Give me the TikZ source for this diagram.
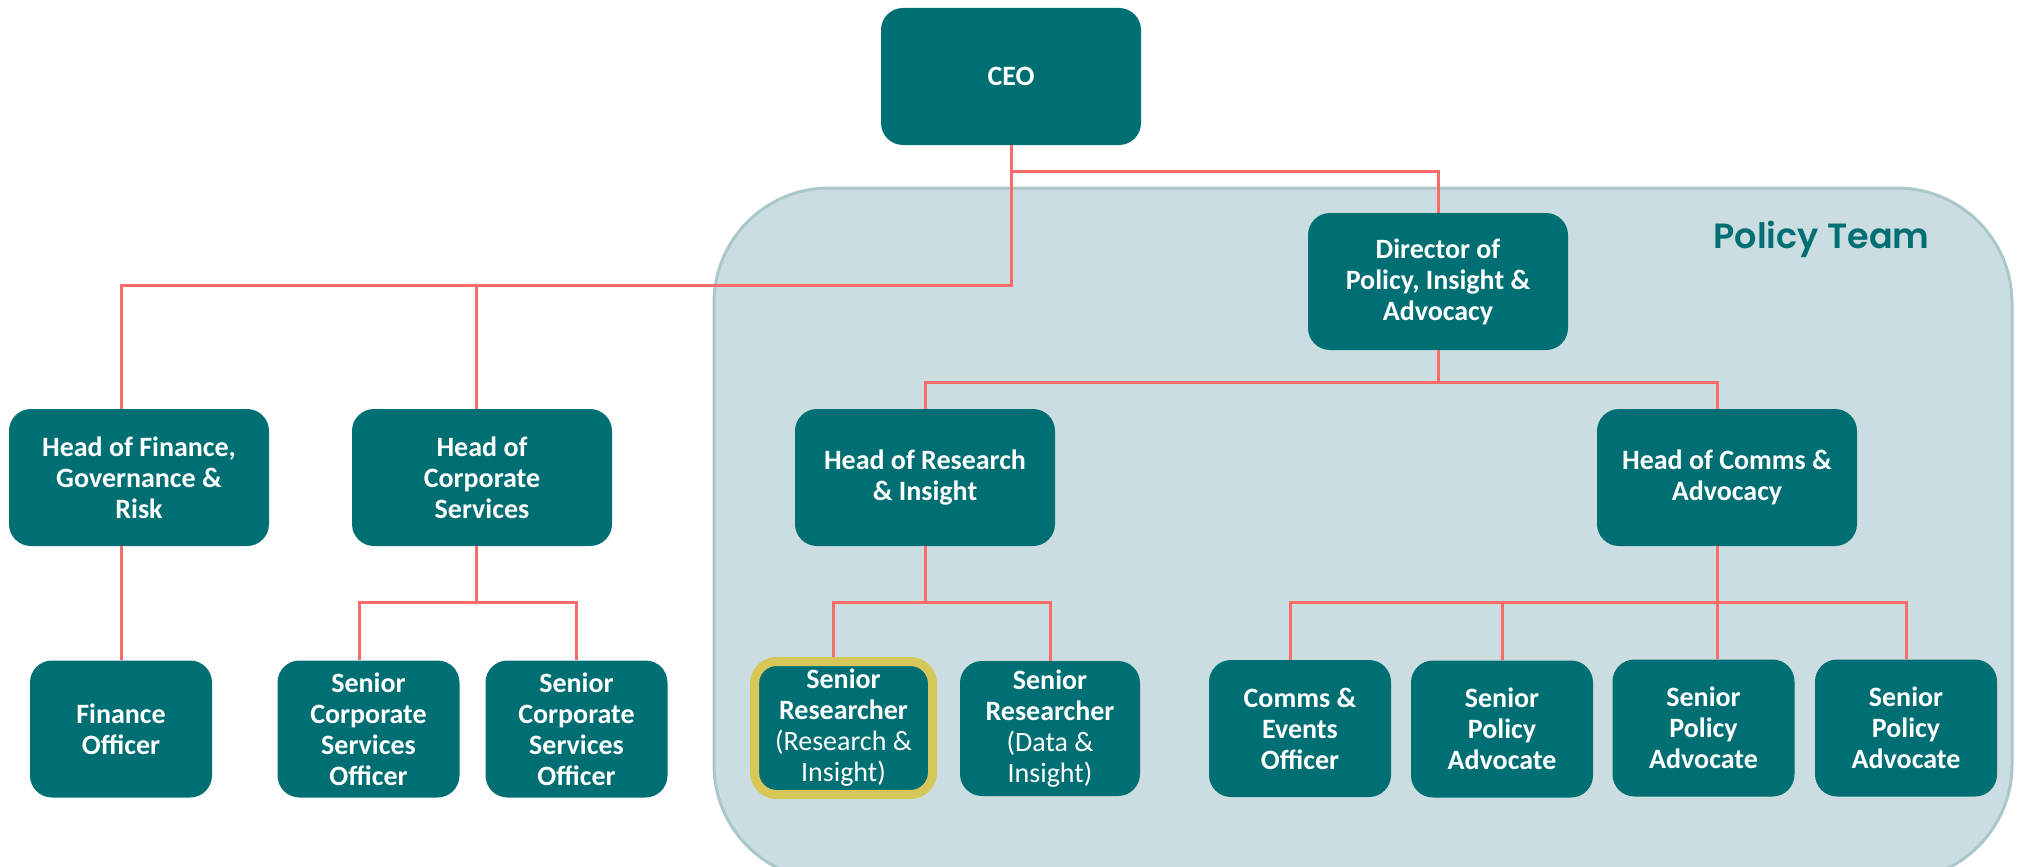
\documentclass[tikz,border=0pt]{standalone}
\usepackage{fontspec}
\setmainfont{Carlito}
\newfontfamily\teamfont{Poppins}[BoldFont={* SemiBold}]

\definecolor{boxteal}{RGB}{0,111,116}
\definecolor{panelfill}{RGB}{203,221,224}
\definecolor{paneledge}{RGB}{170,199,202}
\definecolor{linkred}{RGB}{250,108,106}
\definecolor{hilite}{RGB}{214,199,88}

\newcommand\rolefont{\fontsize{28}{31}\selectfont\bfseries}

\tikzset{
  role/.style={rectangle, rounded corners=22pt, fill=boxteal, text=white,
    inner sep=0pt, align=center, font=\rolefont,
    minimum width=260pt, minimum height=137pt},
  staff/.style={role, minimum width=182pt, minimum height=137pt},
  link/.style={draw=linkred, line width=3pt},
}

\begin{document}
\begin{tikzpicture}[x=1pt, y=-1pt]
  % canvas
  \fill[white] (0,0) rectangle (2022,867);
  \useasboundingbox (0,0) rectangle (2022,867);
  \clip (0,0) rectangle (2022,867);

  % policy team panel
  \draw[fill=panelfill, draw=paneledge, line width=3pt, rounded corners=115pt]
    (714,188) rectangle (2012,880);
  \node[anchor=base east, text=boxteal, font=\teamfont\bfseries\fontsize{35}{40}\selectfont]
    (teamlabel) at (1933,248) {Policy Team};

  % leadership
  \node[role] (ceo) at (1011,76.5) {CEO};
  \node[role] (dir) at (1438,281.5) {Director of\\Policy, Insight \&\\Advocacy};

  % heads
  \node[role] (hfin)  at (139,477.5)  {Head of Finance,\\Governance \&\\Risk};
  \node[role] (hcorp) at (482,477.5)  {Head of\\Corporate\\Services};
  \node[role] (hres)  at (925,477.5)  {Head of Research\\\& Insight};
  \node[role] (hcomm) at (1727,477.5) {Head of Comms \&\\Advocacy};

  % staff
  \node[staff] (fin)   at (121,729)   {Finance\\Officer};
  \node[staff] (scso1) at (368.5,729) {Senior\\Corporate\\Services\\Officer};
  \node[staff] (scso2) at (576.5,729) {Senior\\Corporate\\Services\\Officer};
  \node[staff, draw=hilite, line width=9pt, minimum width=178pt, minimum height=133pt]
    (sr1) at (843.5,728) {Senior\\Researcher\\{\mdseries(Research \&}\\{\mdseries Insight)}};
  \node[staff, minimum width=180pt, minimum height=135pt]
    (sr2) at (1050,728.5) {Senior\\Researcher\\{\mdseries(Data \&}\\{\mdseries Insight)}};
  \node[staff] (cev)  at (1300,728.5) {Comms \&\\Events\\Officer};
  \node[staff] (spa1) at (1502,729)   {Senior\\Policy\\Advocate};
  \node[staff] (spa2) at (1703.5,728) {Senior\\Policy\\Advocate};
  \node[staff] (spa3) at (1906,728)   {Senior\\Policy\\Advocate};

  % bus levels
  \coordinate (yTop) at (0,171);
  \coordinate (yL)   at (0,285);
  \coordinate (yD)   at (0,382);
  \coordinate (yB)   at (0,602);

  % drop points that sit off the box centres
  \coordinate (corpIn)  at ([xshift=-6pt]hcorp.north);
  \coordinate (corpOut) at ([xshift=-6pt]hcorp.south);
  \coordinate (scso1In) at ([xshift=-9.5pt]scso1.north);
  \coordinate (sr1In)   at ([xshift=-10.5pt]sr1.north);
  \coordinate (cevIn)   at ([xshift=-10pt]cev.north);
  \coordinate (commIn)  at ([xshift=-10pt]hcomm.north);
  \coordinate (commOut) at ([xshift=-10pt]hcomm.south);

  % CEO reports
  \draw[link] (ceo.south) -- (ceo.south |- yL) -| (fin.north |- hfin.north);
  \draw[link] (ceo.south |- yTop) -| (dir.north);
  \draw[link] (corpIn |- yL) -- (corpIn);

  % finance and corporate services
  \draw[link] (fin.north |- hfin.south) -- (fin.north);
  \draw[link] (corpOut) -- (corpOut |- yB);
  \draw[link] (scso1In) |- (scso2.north |- yB) -- (scso2.north);

  % director reports
  \draw[link] (dir.south) -- (dir.south |- yD);
  \draw[link] (hres.north) |- (commIn |- yD) -- (commIn);

  % research team
  \draw[link] (hres.south) -- (hres.south |- yB);
  \draw[link] (sr1In) |- (sr2.north |- yB) -- (sr2.north);

  % comms team
  \draw[link] (commOut) -- (commOut |- spa2.north);
  \draw[link] (cevIn) |- (spa3.north |- yB) -- (spa3.north);
  \draw[link] (spa1.north) -- (spa1.north |- yB);
\end{tikzpicture}
\end{document}
